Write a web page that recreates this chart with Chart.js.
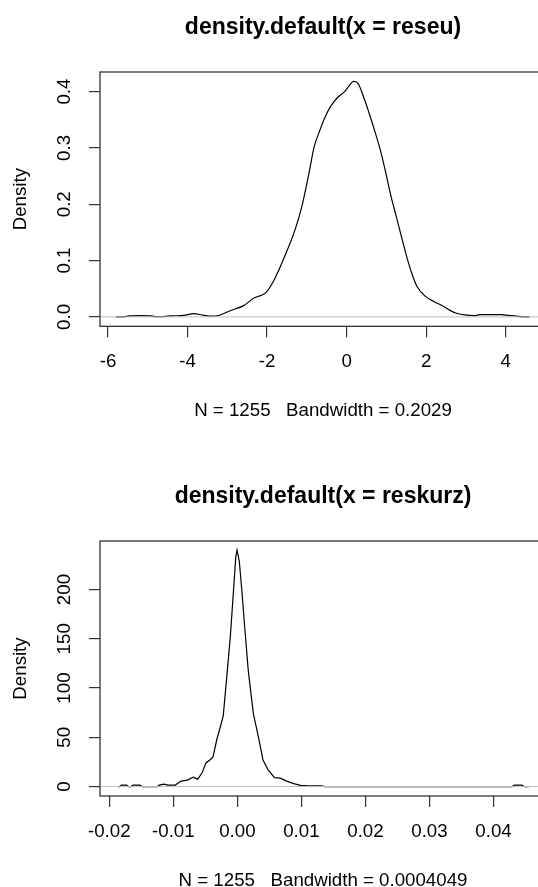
<!DOCTYPE html>
<html>
<head>
<meta charset="utf-8">
<script src="https://cdn.jsdelivr.net/npm/chart.js@4.4.1/dist/chart.umd.min.js"></script>
<style>
  body { margin: 0; background: #fff; overflow: hidden; width: 538px; height: 887px; }
  .plot { position: absolute; left: 0; }
</style>
</head>
<body>
<div class="plot" style="top:0px"><canvas id="reseuChart" width="560" height="440"></canvas></div>
<div class="plot" style="top:440px"><canvas id="reskurzChart" width="560" height="447"></canvas></div>
<script>
// density(reseu) - values
const reseuX = [-5.80, -5.56, -5.45, -5.20, -4.93, -4.82, -4.60, -4.42, -4.10, -3.85, -3.60, -3.40, -3.20, -2.93,
  -2.59, -2.34, -2.03, -1.82, -1.56, -1.30, -1.13, -0.95, -0.82, -0.69, -0.56, -0.39, -0.22, -0.05, 0.07, 0.17,
  0.28, 0.43, 0.56, 0.69, 0.86, 0.99, 1.12, 1.25, 1.38, 1.51, 1.64, 1.77, 1.99, 2.20, 2.42, 2.59, 2.76, 3.02,
  3.20, 3.37, 3.60, 3.89, 4.10, 4.23, 4.32, 4.60]
const reseuY = [0, 0.0006, 0.0019, 0.0021, 0.0019, 0.0006, 0.0006, 0.0018, 0.0026, 0.0058, 0.003, 0.0012, 0.003, 0.011,
  0.020, 0.033, 0.043, 0.066, 0.107, 0.154, 0.195, 0.254, 0.301, 0.328, 0.352, 0.375, 0.390, 0.400, 0.411, 0.418,
  0.415, 0.390, 0.363, 0.334, 0.293, 0.254, 0.213, 0.178, 0.142, 0.107, 0.077, 0.054, 0.036, 0.027, 0.0195, 0.012, 0.0065, 0.003,
  0.0022, 0.004, 0.0042, 0.004, 0.0025, 0.002, 0.0008, 0]
const reseuXTicks = [-6, -4, -2, 0, 2, 4]
const reseuXLabels = ['-6', '-4', '-2', '0', '2', '4']
const reseuYTicks = [0, 0.1, 0.2, 0.3, 0.4]
const reseuYLabels = ['0.0', '0.1', '0.2', '0.3', '0.4']

// density(reskurz)
const reskurzX = [-0.0187, -0.0184, -0.0181, -0.0173, -0.0170, -0.0166, -0.0163, -0.0152, -0.0149, -0.0125,
  -0.0122, -0.0115, -0.0108, -0.0097, -0.0088, -0.0078, -0.0069, -0.0062, -0.0055, -0.0049, -0.0043, -0.0038,
  -0.0032, -0.0026, -0.0022, -0.0017, -0.0011, -0.0006, -0.00025, -0.00005, 0.0003, 0.0007, 0.0012, 0.0017,
  0.0025, 0.0033, 0.0040, 0.0048, 0.0058, 0.0067, 0.0077, 0.0088, 0.0099, 0.0110, 0.0132, 0.0136,
  0.0429, 0.0433, 0.0444, 0.0448, 0.0455]
const reskurzY = [0, 0, 1.5, 1.5, 0, 0, 1.5, 1.5, 0, 0,
  1.5, 2.5, 1.5, 1.5, 5.5, 6.5, 9.5, 7.5, 14, 24, 27, 30,
  48, 62, 72, 108, 152, 199, 233, 240, 229, 199, 158, 118,
  74, 50, 27, 17, 9, 8.5, 5.5, 3, 1.2, 0.7, 0.7, 0,
  0, 1.5, 1.5, 0, 0]
const reskurzXTicks = [-0.02, -0.01, 0, 0.01, 0.02, 0.03, 0.04]
const reskurzXLabels = ['-0.02', '-0.01', '0.00', '0.01', '0.02', '0.03', '0.04']
const reskurzYTicks = [0, 50, 100, 150, 200]
const reskurzYLabels = ['0', '50', '100', '150', '200']

const FONT = '"Liberation Sans", Arial, Helvetica, sans-serif'

// box, main title, sub title and ylab like plot.density does
const rFrame = {
  id: 'rFrame',
  afterDraw(chart, args, opts) {
    const ctx = chart.ctx
    const a = chart.chartArea
    const mid = (a.left + a.right) / 2
    ctx.save()
    ctx.strokeStyle = '#333'
    ctx.lineWidth = 1.3
    ctx.strokeRect(a.left, a.top, a.right - a.left, a.bottom - a.top)
    ctx.fillStyle = '#000'
    ctx.textAlign = 'center'
    ctx.textBaseline = 'alphabetic'
    ctx.font = 'bold 23px ' + FONT
    ctx.fillText(opts.main, mid, opts.mainY)
    ctx.font = '18.7px ' + FONT
    ctx.fillText(opts.sub, mid, opts.subY)
    ctx.translate(opts.ylabX, (a.top + a.bottom) / 2)
    ctx.rotate(-Math.PI / 2)
    ctx.fillText('Density', 0, 0)
    ctx.restore()
  }
}

function densityChart(canvasId, xs, ys, s) {
  const points = xs.map((x, i) => ({x: x, y: ys[i]}))

  return new Chart(document.getElementById(canvasId), {
    type: 'scatter',
    plugins: [rFrame],
    data: {
      datasets: [
        { // abline(h = 0, col = "gray"), drawn over the curve
          data: [{x: s.xMin, y: 0}, {x: s.xMax, y: 0}],
          showLine: true,
          borderColor: '#bebebe',
          borderWidth: 1,
          pointRadius: 0
        },
        {
          data: points,
          showLine: true,
          borderColor: '#000',
          borderWidth: 1.2,
          pointRadius: 0,
          cubicInterpolationMode: s.smooth ? 'monotone' : 'default',
          tension: 0
        }
      ]
    },
    options: {
      responsive: false,
      animation: false,
      devicePixelRatio: 1,
      layout: {padding: {top: s.areaTop, right: 14, left: 0, bottom: 0}},
      plugins: {
        legend: {display: false},
        tooltip: {enabled: false},
        rFrame: {main: s.main, mainY: s.mainY, sub: s.sub, subY: s.subY, ylabX: 25.5}
      },
      scales: {
        x: {
          type: 'linear',
          min: s.xMin,
          max: s.xMax,
          afterBuildTicks: ax => { ax.ticks = s.xTicks.map(v => ({value: v})) },
          afterFit: ax => { ax.height = s.xAxisHeight },
          grid: {drawOnChartArea: false, drawTicks: true, tickLength: 11, color: '#333', lineWidth: 1.2},
          border: {display: false},
          ticks: {
            autoSkip: false, maxRotation: 0, padding: 13.5, color: '#000',
            font: {family: FONT, size: 18.7},
            callback: (v, i) => s.xLabels[i]
          }
        },
        y: {
          type: 'linear',
          min: s.yMin,
          max: s.yMax,
          afterBuildTicks: ax => { ax.ticks = s.yTicks.map(v => ({value: v})) },
          afterFit: ax => { ax.width = 100 },
          grid: {drawOnChartArea: false, drawTicks: true, tickLength: 11, color: '#333', lineWidth: 1.2},
          border: {display: false},
          ticks: {
            autoSkip: false, minRotation: 90, maxRotation: 90, crossAlign: 'center',
            padding: s.yPad, color: '#000',
            font: {family: FONT, size: 18.7},
            callback: (v, i) => s.yLabels[i]
          }
        }
      }
    }
  })
}

densityChart('reseuChart', reseuX, reseuY, {
  main: 'density.default(x = reseu)', mainY: 34,
  sub: 'N = 1255   Bandwidth = 0.2029', subY: 416,
  xMin: -6.201, xMax: 5.013, yMin: -0.0167, yMax: 0.4348,
  xTicks: reseuXTicks, xLabels: reseuXLabels, yTicks: reseuYTicks, yLabels: reseuYLabels,
  areaTop: 72, xAxisHeight: 113.7, yPad: 11.2, smooth: true
})

densityChart('reskurzChart', reskurzX, reskurzY, {
  main: 'density.default(x = reskurz)', mainY: 63,
  sub: 'N = 1255   Bandwidth = 0.0004049', subY: 446,
  xMin: -0.02145, xMax: 0.0482, yMin: -9.6, yMax: 249.3,
  xTicks: reskurzXTicks, xLabels: reskurzXLabels, yTicks: reskurzYTicks, yLabels: reskurzYLabels,
  areaTop: 101, xAxisHeight: 91, yPad: 8.6, smooth: false
})
</script>
</body>
</html>
